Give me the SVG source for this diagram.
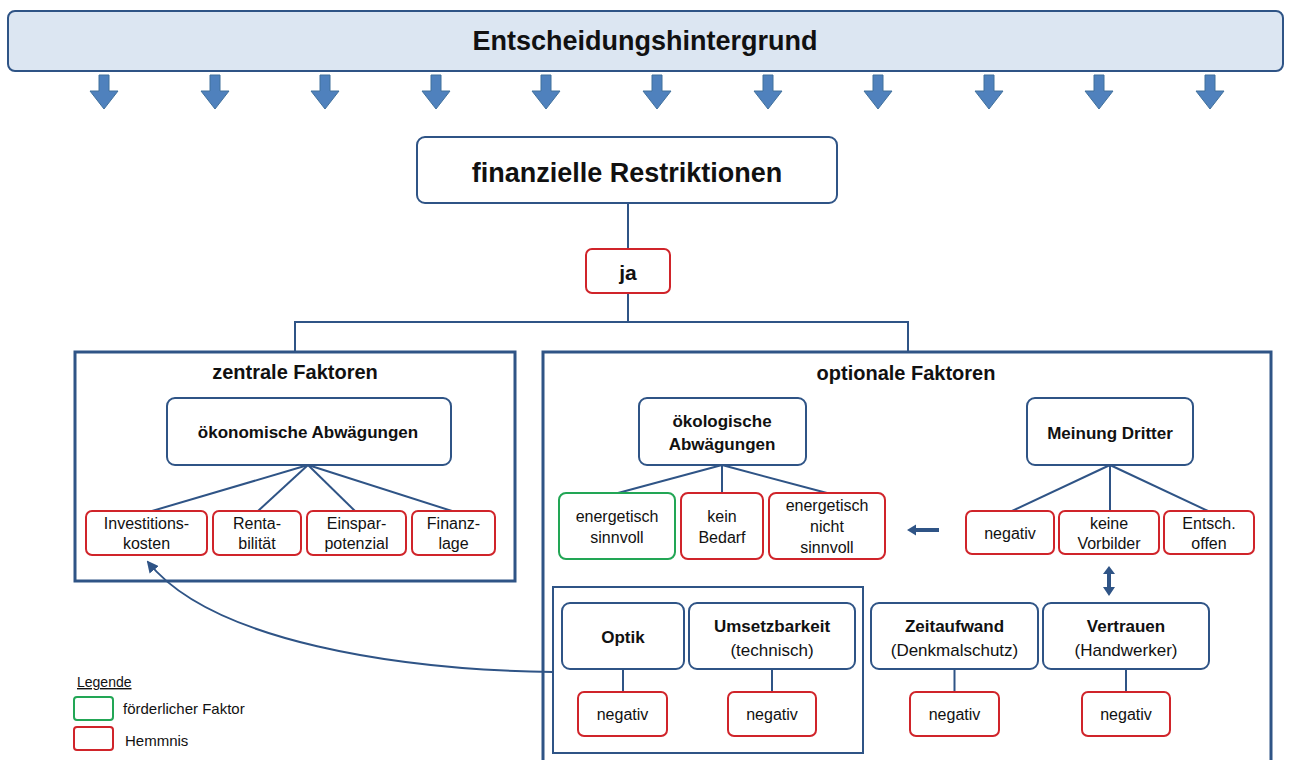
<svg xmlns="http://www.w3.org/2000/svg" width="1291" height="760" viewBox="0 0 1291 760">
<defs>
<style>
.t{font-family:"Liberation Sans",Arial,sans-serif;fill:#111;text-anchor:middle}
.b{font-weight:bold}
.box{fill:#fff;stroke:#2f5486;stroke-width:2}
.red{fill:#fff;stroke:#d0242a;stroke-width:2}
.grn{fill:#fff;stroke:#22a655;stroke-width:2}
.frame{fill:none;stroke:#2f5486;stroke-width:3}
.ln{stroke:#2f5486;stroke-width:2;fill:none}
.dn{fill:#4f81bd;stroke:#41719c;stroke-width:1}
.ar{fill:#2f5486}
</style>
<marker id="ah" viewBox="0 0 12 12" refX="10" refY="6" markerWidth="6" markerHeight="6" orient="auto" markerUnits="strokeWidth">
<path d="M0,0 L12,6 L0,12 z" fill="#2f5486"/>
</marker>
<path id="dnArrow" class="dn" d="M-5,75 H5 V91 H14 L0,109 L-14,91 H-5 Z"/>
</defs>
<rect width="1291" height="760" fill="#fff"/>

<g id="banner">
<rect x="8" y="11" width="1275" height="60" rx="7" fill="#dce6f2" stroke="#2f5486" stroke-width="2"/>
<text class="t b" x="645" y="50" font-size="27">Entscheidungshintergrund</text>
</g>

<g id="down-arrows">
<use href="#dnArrow" x="104"/>
<use href="#dnArrow" x="215"/>
<use href="#dnArrow" x="325"/>
<use href="#dnArrow" x="436"/>
<use href="#dnArrow" x="546"/>
<use href="#dnArrow" x="657"/>
<use href="#dnArrow" x="768"/>
<use href="#dnArrow" x="878"/>
<use href="#dnArrow" x="989"/>
<use href="#dnArrow" x="1099"/>
<use href="#dnArrow" x="1210"/>
</g>

<g id="connectors">
<line class="ln" x1="628" y1="203" x2="628" y2="249"/>
<line class="ln" x1="628" y1="293" x2="628" y2="322"/>
<polyline class="ln" points="295,352 295,322 908,322 908,352"/>
<line class="ln" x1="308" y1="465" x2="152" y2="511"/>
<line class="ln" x1="308" y1="465" x2="258" y2="511"/>
<line class="ln" x1="308" y1="465" x2="355" y2="511"/>
<line class="ln" x1="308" y1="465" x2="452" y2="511"/>
<line class="ln" x1="722" y1="465" x2="618" y2="493"/>
<line class="ln" x1="722" y1="465" x2="722" y2="493"/>
<line class="ln" x1="722" y1="465" x2="827" y2="493"/>
<line class="ln" x1="1110" y1="465" x2="1012" y2="511"/>
<line class="ln" x1="1110" y1="465" x2="1110" y2="511"/>
<line class="ln" x1="1110" y1="465" x2="1208" y2="511"/>
<line class="ln" x1="623" y1="669" x2="623" y2="692"/>
<line class="ln" x1="772" y1="669" x2="772" y2="692"/>
<line class="ln" x1="954.5" y1="669" x2="954.5" y2="692"/>
<line class="ln" x1="1126" y1="669" x2="1126" y2="692"/>
<path class="ln" d="M553,672 C400,670 212,642 148,562" stroke-width="3" marker-end="url(#ah)"/>
<path class="ar" d="M939,528 H916 V524.5 L907,530 L916,535.5 V532 H939 Z"/>
<path class="ar" d="M1107,574 V587 H1103 L1109,596 L1115,587 H1111 V574 H1115 L1109,566 L1103,574 Z"/>
</g>

<g id="finanzielle-restriktionen">
<rect class="box" x="417" y="137" width="420" height="66" rx="8"/>
<text class="t b" x="627" y="182" font-size="27">finanzielle Restriktionen</text>
</g>

<g id="ja">
<rect class="red" x="586" y="249" width="84" height="44" rx="6"/>
<text class="t b" x="628" y="280" font-size="21">ja</text>
</g>

<g id="zentrale-faktoren">
<rect class="frame" x="75" y="352" width="440" height="229"/>
<text class="t b" x="295" y="379" font-size="20">zentrale Faktoren</text>
</g>

<g id="oekonomische-abwaegungen">
<rect class="box" x="167" y="398" width="284" height="67" rx="8"/>
<text class="t b" x="308" y="438" font-size="17">ökonomische Abwägungen</text>
</g>

<g id="investitionskosten">
<rect class="red" x="86" y="511" width="121" height="44" rx="6"/>
<text class="t" x="146.5" y="529" font-size="16">Investitions-</text>
<text class="t" x="146.5" y="549" font-size="16">kosten</text>
</g>
<g id="rentabilitaet">
<rect class="red" x="213" y="511" width="88" height="44" rx="6"/>
<text class="t" x="257" y="529" font-size="16">Renta-</text>
<text class="t" x="257" y="549" font-size="16">bilität</text>
</g>
<g id="einsparpotenzial">
<rect class="red" x="307" y="511" width="99" height="44" rx="6"/>
<text class="t" x="356.5" y="529" font-size="16">Einspar-</text>
<text class="t" x="356.5" y="549" font-size="16">potenzial</text>
</g>
<g id="finanzlage">
<rect class="red" x="412" y="511" width="83" height="44" rx="6"/>
<text class="t" x="453.5" y="529" font-size="16">Finanz-</text>
<text class="t" x="453.5" y="549" font-size="16">lage</text>
</g>

<g id="optionale-faktoren">
<rect class="frame" x="543" y="352" width="728" height="420"/>
<text class="t b" x="906" y="380" font-size="20">optionale Faktoren</text>
</g>

<g id="oekologische-abwaegungen">
<rect class="box" x="639" y="398" width="167" height="67" rx="8"/>
<text class="t b" x="722" y="427" font-size="17">ökologische</text>
<text class="t b" x="722" y="450" font-size="17">Abwägungen</text>
</g>
<g id="energetisch-sinnvoll">
<rect class="grn" x="559" y="493" width="116" height="66" rx="7"/>
<text class="t" x="617" y="522" font-size="16">energetisch</text>
<text class="t" x="617" y="543" font-size="16">sinnvoll</text>
</g>
<g id="kein-bedarf">
<rect class="red" x="681" y="493" width="82" height="66" rx="7"/>
<text class="t" x="722" y="522" font-size="16">kein</text>
<text class="t" x="722" y="543" font-size="16">Bedarf</text>
</g>
<g id="energetisch-nicht-sinnvoll">
<rect class="red" x="769" y="493" width="116" height="66" rx="7"/>
<text class="t" x="827" y="511" font-size="16">energetisch</text>
<text class="t" x="827" y="532" font-size="16">nicht</text>
<text class="t" x="827" y="553" font-size="16">sinnvoll</text>
</g>

<g id="meinung-dritter">
<rect class="box" x="1027" y="398" width="166" height="67" rx="8"/>
<text class="t b" x="1110" y="439" font-size="17">Meinung Dritter</text>
</g>
<g id="md-negativ">
<rect class="red" x="966" y="511" width="88" height="43" rx="6"/>
<text class="t" x="1010" y="539" font-size="16">negativ</text>
</g>
<g id="keine-vorbilder">
<rect class="red" x="1059" y="511" width="100" height="43" rx="6"/>
<text class="t" x="1109" y="529" font-size="16">keine</text>
<text class="t" x="1109" y="549" font-size="16">Vorbilder</text>
</g>
<g id="entsch-offen">
<rect class="red" x="1164" y="511" width="90" height="43" rx="6"/>
<text class="t" x="1209" y="529" font-size="16">Entsch.</text>
<text class="t" x="1209" y="549" font-size="16">offen</text>
</g>

<g id="optik-umsetzbarkeit-gruppe">
<rect x="553" y="587" width="310" height="166" fill="none" stroke="#2f5486" stroke-width="2"/>
</g>
<g id="optik">
<rect class="box" x="562" y="603" width="122" height="66" rx="8"/>
<text class="t b" x="623" y="643" font-size="17">Optik</text>
</g>
<g id="optik-negativ">
<rect class="red" x="578" y="692" width="89" height="44" rx="6"/>
<text class="t" x="622.5" y="720" font-size="16">negativ</text>
</g>
<g id="umsetzbarkeit">
<rect class="box" x="689" y="603" width="166" height="66" rx="8"/>
<text class="t b" x="772" y="632" font-size="17">Umsetzbarkeit</text>
<text class="t" x="772" y="656" font-size="17">(technisch)</text>
</g>
<g id="umsetzbarkeit-negativ">
<rect class="red" x="728" y="692" width="88" height="44" rx="6"/>
<text class="t" x="772" y="720" font-size="16">negativ</text>
</g>
<g id="zeitaufwand">
<rect class="box" x="871" y="603" width="167" height="66" rx="8"/>
<text class="t b" x="954.5" y="632" font-size="17">Zeitaufwand</text>
<text class="t" x="954.5" y="656" font-size="17">(Denkmalschutz)</text>
</g>
<g id="zeitaufwand-negativ">
<rect class="red" x="910" y="692" width="89" height="44" rx="6"/>
<text class="t" x="954.5" y="720" font-size="16">negativ</text>
</g>
<g id="vertrauen">
<rect class="box" x="1043" y="603" width="166" height="66" rx="8"/>
<text class="t b" x="1126" y="632" font-size="17">Vertrauen</text>
<text class="t" x="1126" y="656" font-size="17">(Handwerker)</text>
</g>
<g id="vertrauen-negativ">
<rect class="red" x="1082" y="692" width="88" height="44" rx="6"/>
<text class="t" x="1126" y="720" font-size="16">negativ</text>
</g>

<g id="legende">
<text class="t" x="77" y="687" font-size="14" text-anchor="start" style="text-anchor:start;text-decoration:underline">Legende</text>
<rect class="grn" x="74" y="697" width="39" height="23" rx="3"/>
<text class="t" x="123" y="714" font-size="15" style="text-anchor:start">förderlicher Faktor</text>
<rect class="red" x="74" y="727" width="39" height="23" rx="3"/>
<text class="t" x="125" y="746" font-size="15" style="text-anchor:start">Hemmnis</text>
</g>
</svg>
